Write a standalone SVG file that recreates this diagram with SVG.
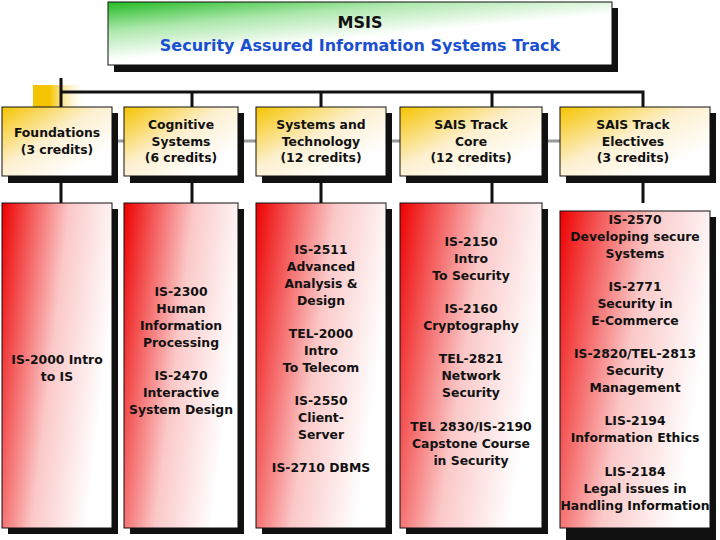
<svg xmlns="http://www.w3.org/2000/svg" width="720" height="540" viewBox="0 0 720 540">
<defs>
<linearGradient id="g" x1="0" y1="0" x2="0.45" y2="0.6"><stop offset="0" stop-color="#22bb22"/><stop offset="0.5" stop-color="#aee8ae"/><stop offset="1" stop-color="#fff"/></linearGradient>
<linearGradient id="y" x1="0" y1="0" x2="0.8" y2="0.8"><stop offset="0" stop-color="#f5c400"/><stop offset="0.55" stop-color="#fdf0d0"/><stop offset="1" stop-color="#fff"/></linearGradient>
<linearGradient id="r" x1="0" y1="0" x2="1" y2="0.35"><stop offset="0" stop-color="#ee0000"/><stop offset="0.55" stop-color="#fbc8c8"/><stop offset="1" stop-color="#fff"/></linearGradient>
<linearGradient id="ys" x1="0" y1="0" x2="1" y2="0"><stop offset="0.3" stop-color="#f5c400"/><stop offset="1" stop-color="#fff" stop-opacity="0"/></linearGradient>
</defs>
<style>
.sh{fill:#111}.b{stroke:#111;stroke-width:1}
text{font-family:"DejaVu Sans",Verdana,sans-serif;font-weight:bold;font-size:12.4px;fill:#111;text-anchor:middle}
.c{stroke:#111;stroke-width:3;fill:none}
</style>
<rect x="33" y="85" width="55" height="25" fill="url(#ys)"/>
<g id="connectors">
<line class="c" x1="61" y1="78" x2="61" y2="107"/>
<polyline class="c" points="61,92 643,92 643,107"/>
<line class="c" x1="192" y1="92" x2="192" y2="107"/>
<line class="c" x1="321" y1="92" x2="321" y2="107"/>
<line class="c" x1="492" y1="92" x2="492" y2="107"/>
<line x1="112" y1="141" x2="560" y2="141" stroke="#999" stroke-width="3"/>
<line class="c" x1="61" y1="176" x2="61" y2="203"/>
<line class="c" x1="192" y1="176" x2="192" y2="203"/>
<line class="c" x1="321" y1="176" x2="321" y2="203"/>
<line class="c" x1="492" y1="176" x2="492" y2="203"/>
<line class="c" x1="643" y1="176" x2="643" y2="203"/>
</g>
<g id="title"><rect class="sh" x="114" y="8" width="504" height="64"/><rect class="b" x="108" y="2" width="504" height="63" fill="url(#g)"/>
<text x="360" y="28" style="font-size:16px">MSIS</text><text x="360" y="51" style="fill:#1a4fd0;font-size:16px">Security Assured Information Systems Track</text></g>
<g id="h1"><rect class="sh" x="8" y="113" width="110" height="70"/><rect class="b" x="2" y="107" width="110" height="69" fill="url(#y)"/><text x="57" y="137">Foundations</text><text x="57" y="154">(3 credits)</text></g>
<g id="h2"><rect class="sh" x="130" y="113" width="114" height="70"/><rect class="b" x="124" y="107" width="114" height="69" fill="url(#y)"/><text x="181" y="129">Cognitive</text><text x="181" y="146">Systems</text><text x="181" y="162">(6 credits)</text></g>
<g id="h3"><rect class="sh" x="262" y="113" width="130" height="70"/><rect class="b" x="256" y="107" width="130" height="69" fill="url(#y)"/><text x="321" y="129">Systems and</text><text x="321" y="146">Technology</text><text x="321" y="162">(12 credits)</text></g>
<g id="h4"><rect class="sh" x="406" y="113" width="142" height="70"/><rect class="b" x="400" y="107" width="142" height="69" fill="url(#y)"/><text x="471" y="129">SAIS Track</text><text x="471" y="146">Core</text><text x="471" y="162">(12 credits)</text></g>
<g id="h5"><rect class="sh" x="566" y="113" width="150" height="70"/><rect class="b" x="560" y="107" width="150" height="69" fill="url(#y)"/><text x="633" y="129">SAIS Track</text><text x="633" y="146">Electives</text><text x="633" y="162">(3 credits)</text></g>
<g id="c1"><rect class="sh" x="8" y="209" width="110" height="325"/><rect class="b" x="2" y="203" width="110" height="325" fill="url(#r)"/><text x="57" y="364">IS-2000 Intro</text><text x="57" y="381">to IS</text></g>
<g id="c2"><rect class="sh" x="130" y="209" width="114" height="325"/><rect class="b" x="124" y="203" width="114" height="325" fill="url(#r)"/><text x="181" y="296">IS-2300</text><text x="181" y="313">Human</text><text x="181" y="330">Information</text><text x="181" y="347">Processing</text><text x="181" y="380">IS-2470</text><text x="181" y="397">Interactive</text><text x="181" y="414">System Design</text></g>
<g id="c3"><rect class="sh" x="262" y="209" width="130" height="325"/><rect class="b" x="256" y="203" width="130" height="325" fill="url(#r)"/><text x="321" y="254">IS-2511</text><text x="321" y="271">Advanced</text><text x="321" y="288">Analysis &amp;</text><text x="321" y="305">Design</text><text x="321" y="338">TEL-2000</text><text x="321" y="355">Intro</text><text x="321" y="372">To Telecom</text><text x="321" y="405">IS-2550</text><text x="321" y="422">Client-</text><text x="321" y="439">Server</text><text x="321" y="472">IS-2710 DBMS</text></g>
<g id="c4"><rect class="sh" x="406" y="209" width="142" height="325"/><rect class="b" x="400" y="203" width="142" height="325" fill="url(#r)"/><text x="471" y="246">IS-2150</text><text x="471" y="263">Intro</text><text x="471" y="280">To Security</text><text x="471" y="313">IS-2160</text><text x="471" y="330">Cryptography</text><text x="471" y="363">TEL-2821</text><text x="471" y="380">Network</text><text x="471" y="397">Security</text><text x="471" y="431">TEL 2830/IS-2190</text><text x="471" y="448">Capstone Course</text><text x="471" y="465">in Security</text></g>
<g id="c5"><rect class="sh" x="566" y="217" width="150" height="323"/><rect class="b" x="560" y="211" width="150" height="317" fill="url(#r)"/><text x="635" y="224">IS-2570</text><text x="635" y="241">Developing secure</text><text x="635" y="258">Systems</text><text x="635" y="291">IS-2771</text><text x="635" y="308">Security in</text><text x="635" y="325">E-Commerce</text><text x="635" y="358">IS-2820/TEL-2813</text><text x="635" y="375">Security</text><text x="635" y="392">Management</text><text x="635" y="425">LIS-2194</text><text x="635" y="442">Information Ethics</text><text x="635" y="476">LIS-2184</text><text x="635" y="493">Legal issues in</text><text x="635" y="510">Handling Information</text></g>
</svg>
